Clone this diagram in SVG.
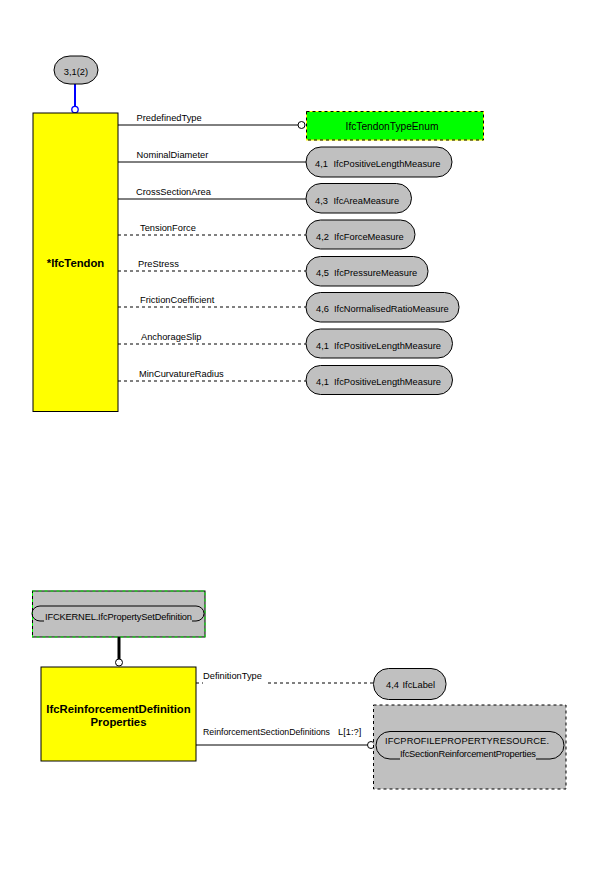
<svg xmlns="http://www.w3.org/2000/svg" width="600" height="888" viewBox="0 0 600 888">
<style>
text{font-family:"Liberation Sans",Arial,sans-serif;font-size:9.3px;fill:#000}
.b{font-weight:bold;font-size:11.3px}
.ent{fill:#FFFF00;stroke:#000;stroke-width:1}
.pill{fill:#C0C0C0;stroke:#000;stroke-width:1}
.ln{stroke:#000;stroke-width:1;fill:none}
.dl{stroke:#000;stroke-width:1;fill:none;stroke-dasharray:3,3}
.oc{fill:#fff;stroke:#000;stroke-width:1}
</style>
<rect width="600" height="888" fill="#fff"/>
<g id="connectors">
<line x1="75" y1="84" x2="75" y2="106" stroke="#0000FF" stroke-width="2"/>
<circle cx="75" cy="109.5" r="3.2" fill="#fff" stroke="#0000FF" stroke-width="1.3"/>
<line class="ln" x1="118" y1="125" x2="298" y2="125"/>
<circle class="oc" cx="301.5" cy="125" r="3.5"/>
<line class="ln" x1="118" y1="162" x2="306" y2="162"/>
<line class="ln" x1="118" y1="199" x2="306" y2="199"/>
<line class="dl" x1="118" y1="235" x2="306" y2="235"/>
<line class="dl" x1="118" y1="271" x2="306" y2="271"/>
<line class="dl" x1="118" y1="307" x2="306" y2="307"/>
<line class="dl" x1="118" y1="344" x2="306" y2="344"/>
<line class="dl" x1="118" y1="381" x2="306" y2="381"/>
<line x1="119" y1="637" x2="119" y2="659" stroke="#000" stroke-width="3"/>
<circle class="oc" cx="119" cy="662.5" r="3.5"/>
<line class="dl" x1="196" y1="683" x2="203" y2="683"/>
<line class="dl" x1="268" y1="683" x2="373" y2="683"/>
<line class="ln" x1="196" y1="745" x2="367.5" y2="745"/>
<circle class="oc" cx="371" cy="745" r="3.5"/>
<text x="136.5" y="120.5">PredefinedType</text>
<text x="136.5" y="157.5">NominalDiameter</text>
<text x="136" y="194.5">CrossSectionArea</text>
<text x="140" y="230.5">TensionForce</text>
<text x="138" y="266.5">PreStress</text>
<text x="140" y="302.5">FrictionCoefficient</text>
<text x="141" y="339.5">AnchorageSlip</text>
<text x="139" y="376.5">MinCurvatureRadius</text>
<text x="203" y="679">DefinitionType</text>
<text x="203" y="735" textLength="127" lengthAdjust="spacingAndGlyphs">ReinforcementSectionDefinitions</text>
<text x="338" y="735">L[1:?]</text>
</g>
<g id="ref-3-1-2">
<rect x="54" y="56" width="44" height="28" rx="16" ry="14" class="pill"/>
<text x="76" y="75" text-anchor="middle">3,1(2)</text>
</g>
<g id="IfcTendon">
<rect x="33" y="113" width="85" height="298.5" class="ent"/>
<text x="75.5" y="267" class="b" text-anchor="middle">*IfcTendon</text>
</g>
<g id="IfcTendonTypeEnum">
<rect x="306.5" y="111.5" width="177" height="28.5" fill="#00FF00" stroke="#FFFF00" stroke-width="1"/>
<rect x="306.5" y="111.5" width="177" height="28.5" fill="none" stroke="#000" stroke-width="1" stroke-dasharray="3,3"/>
<text x="392" y="130" text-anchor="middle" style="font-size:10.2px">IfcTendonTypeEnum</text>
</g>
<g id="NominalDiameter-type">
<rect x="306" y="147" width="146" height="30" rx="15" class="pill"/>
<text x="315" y="166.5">4,1</text><text x="333.5" y="166.5">IfcPositiveLengthMeasure</text>
</g>
<g id="CrossSectionArea-type">
<rect x="306" y="183.5" width="105.5" height="29.5" rx="15" class="pill"/>
<text x="315" y="203.5">4,3</text><text x="333.5" y="203.5">IfcAreaMeasure</text>
</g>
<g id="TensionForce-type">
<rect x="306" y="220" width="109" height="29" rx="14.5" class="pill"/>
<text x="316" y="239.5">4,2</text><text x="334" y="239.5">IfcForceMeasure</text>
</g>
<g id="PreStress-type">
<rect x="306" y="256.5" width="122" height="29.5" rx="14.5" class="pill"/>
<text x="316" y="275.5">4,5</text><text x="334" y="275.5">IfcPressureMeasure</text>
</g>
<g id="FrictionCoefficient-type">
<rect x="306" y="292.5" width="153" height="29.5" rx="14.5" class="pill"/>
<text x="316" y="311.5">4,6</text><text x="334" y="311.5">IfcNormalisedRatioMeasure</text>
</g>
<g id="AnchorageSlip-type">
<rect x="306" y="329" width="146.5" height="29" rx="14.5" class="pill"/>
<text x="316" y="348.5">4,1</text><text x="334" y="348.5">IfcPositiveLengthMeasure</text>
</g>
<g id="MinCurvatureRadius-type">
<rect x="306" y="365.5" width="146.5" height="29" rx="14.5" class="pill"/>
<text x="316" y="385">4,1</text><text x="334" y="385">IfcPositiveLengthMeasure</text>
</g>
<g id="IfcPropertySetDefinition-ref">
<rect x="32.5" y="591" width="172.5" height="46" fill="#C0C0C0" stroke="#000" stroke-width="1"/>
<rect x="32.5" y="591" width="172.5" height="46" fill="none" stroke="#00FF00" stroke-width="1" stroke-dasharray="3,3"/>
<path d="M44,621 H40 A8,7.5 0 0 1 40,606 H196 A8,7.5 0 0 1 196,621 H192" class="ln"/>
<text x="45" y="619.5" textLength="147" lengthAdjust="spacing">IFCKERNEL.IfcPropertySetDefinition</text>
</g>
<g id="IfcReinforcementDefinitionProperties">
<rect x="41" y="667" width="155" height="94" class="ent"/>
<text x="118.5" y="713" class="b" text-anchor="middle">IfcReinforcementDefinition</text>
<text x="118.5" y="725.5" class="b" text-anchor="middle">Properties</text>
</g>
<g id="IfcLabel-type">
<rect x="373.5" y="668.5" width="72.5" height="31" rx="15" class="pill"/>
<text x="386" y="688">4,4</text><text x="402.5" y="688">IfcLabel</text>
</g>
<g id="IfcSectionReinforcementProperties-ref">
<rect x="373.5" y="705" width="192.5" height="84" fill="#C0C0C0" stroke="#000" stroke-width="1" stroke-dasharray="3,3"/>
<path d="M400,759 H390 A14,13.75 0 0 1 390,731.5 H550 A14,13.75 0 0 1 550,759 H536" class="ln"/>
<text x="385" y="743.5" textLength="164" lengthAdjust="spacing">IFCPROFILEPROPERTYRESOURCE.</text>
<text x="400" y="757" textLength="136" lengthAdjust="spacing">IfcSectionReinforcementProperties</text>
</g>
</svg>
